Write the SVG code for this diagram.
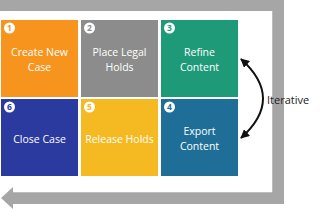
<svg xmlns="http://www.w3.org/2000/svg" width="320" height="209" viewBox="0 0 320 209">
  <style>
    .lbl { font-family: "Open Sans", "Noto Sans", "DejaVu Sans", sans-serif; font-size: 10.5px; fill: #ffffff; text-anchor: middle; }
    .num { font-family: "Open Sans", "DejaVu Sans", sans-serif; font-size: 8.5px; font-weight: bold; text-anchor: middle; }
    .badge { fill: #ffffff; }
    .side { font-family: "Open Sans", "Noto Sans", "DejaVu Sans", sans-serif; font-size: 11px; fill: #222222; }
  </style>
  <defs>
    <marker id="ah" viewBox="0 0 10 10" refX="9" refY="5" markerWidth="4.5" markerHeight="4.5" orient="auto-start-reverse" markerUnits="strokeWidth">
      <path d="M0,0 L10,5 L0,10 Z" fill="#111111"/>
    </marker>
  </defs>
  <rect width="320" height="209" fill="#ffffff"/>

  <g id="flow-band">
    <polygon points="0,0 284,0 284,204 13,204 13,209 1,198 13,187 13,192 272,192 272,11 0,11" fill="#a6a6a6"/>
    <line x1="272.5" y1="11" x2="272.5" y2="192" stroke="#bdbdbd" stroke-width="1"/>
    <line x1="13" y1="192.5" x2="272" y2="192.5" stroke="#bdbdbd" stroke-width="1"/>
  </g>

  <g id="node1">
    <rect x="1" y="20" width="77" height="77" fill="#f7941d"/>
    <circle class="badge" cx="9.5" cy="28" r="5.5"/>
    <text class="num" x="9.5" y="31" fill="#f7941d">1</text>
    <text class="lbl" x="39.5" y="56">Create New</text>
    <text class="lbl" x="39.5" y="70.5">Case</text>
  </g>
  <g id="node2">
    <rect x="81" y="20" width="77" height="77" fill="#8c8c8c"/>
    <circle class="badge" cx="89.5" cy="28" r="5.5"/>
    <text class="num" x="89.5" y="31" fill="#8c8c8c">2</text>
    <text class="lbl" x="119.5" y="56">Place Legal</text>
    <text class="lbl" x="119.5" y="70.5">Holds</text>
  </g>
  <g id="node3">
    <rect x="161" y="20" width="77" height="77" fill="#1f9a78"/>
    <circle class="badge" cx="169.5" cy="28" r="5.5"/>
    <text class="num" x="169.5" y="31" fill="#1f9a78">3</text>
    <text class="lbl" x="199.5" y="56">Refine</text>
    <text class="lbl" x="199.5" y="70.5">Content</text>
  </g>
  <g id="node4">
    <rect x="161" y="99" width="77" height="77" fill="#1f6e97"/>
    <circle class="badge" cx="169.5" cy="107" r="5.5"/>
    <text class="num" x="169.5" y="110" fill="#1f6e97">4</text>
    <text class="lbl" x="199.5" y="135">Export</text>
    <text class="lbl" x="199.5" y="149.5">Content</text>
  </g>
  <g id="node5">
    <rect x="81" y="99" width="77" height="77" fill="#f5b921"/>
    <circle class="badge" cx="89.5" cy="107" r="5.5"/>
    <text class="num" x="89.5" y="110" fill="#f5b921">5</text>
    <text class="lbl" x="119.5" y="142.5">Release Holds</text>
  </g>
  <g id="node6">
    <rect x="1" y="99" width="77" height="77" fill="#2a3a9e"/>
    <circle class="badge" cx="9.5" cy="107" r="5.5"/>
    <text class="num" x="9.5" y="110" fill="#2a3a9e">6</text>
    <text class="lbl" x="39.5" y="142.5">Close Case</text>
  </g>

  <g id="connectors">
    <path d="M241,59 Q285,98.5 241,138" fill="none" stroke="#111111" stroke-width="2" marker-start="url(#ah)" marker-end="url(#ah)"/>
    <text class="side" x="267" y="103.5">Iterative</text>
  </g>
</svg>
